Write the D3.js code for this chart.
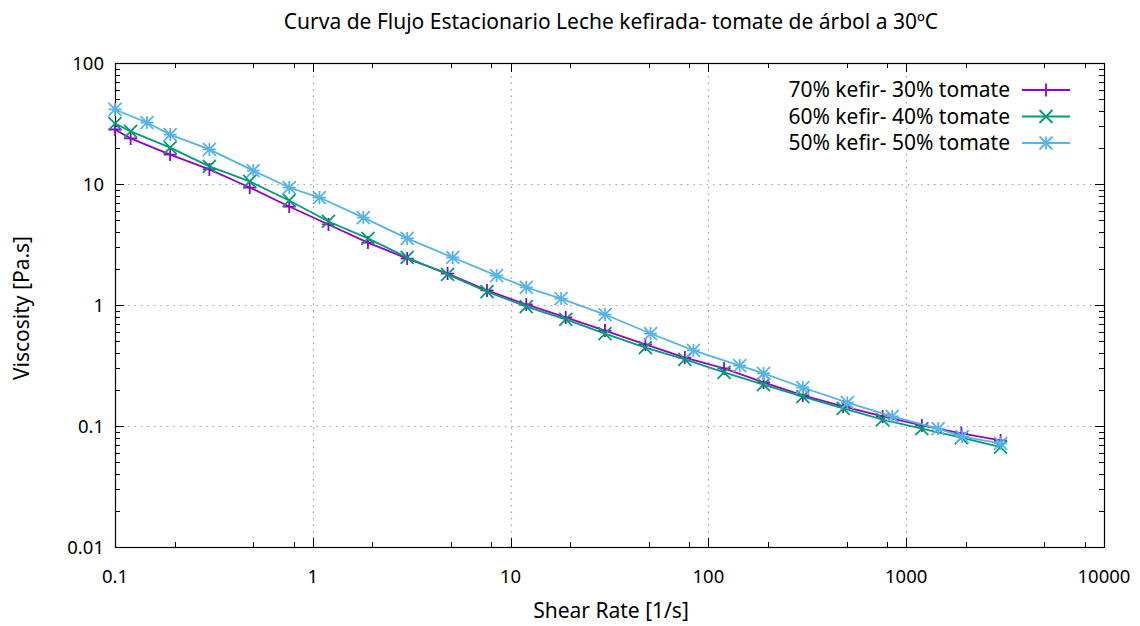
<!DOCTYPE html>
<html>
<head>
<meta charset="utf-8">
<script src="https://cdn.jsdelivr.net/npm/d3@7"></script>
<style>
  html, body { margin: 0; padding: 0; background: #fff; }
  svg text { font-family: "Noto Sans", "Liberation Sans", Arial, sans-serif; fill: #000; }
</style>
</head>
<body>
<svg id="chart" width="1140" height="626"></svg>
<script>
// Shear rate [1/s] for the 70/30 and 60/40 blends
const shear7030 = [0.1, 0.12, 0.19, 0.30, 0.48, 0.76, 1.2, 1.9, 3.0, 4.8, 7.6, 12, 19, 30, 48, 76, 120, 190, 300, 480, 760, 1200, 1900, 3000];
const shear6040 = [0.1, 0.12, 0.19, 0.30, 0.48, 0.76, 1.2, 1.9, 3.0, 4.8, 7.6, 12, 19, 30, 48, 76, 120, 190, 300, 480, 760, 1200, 1900, 3000];
const shear5050 = [0.1, 0.145, 0.19, 0.30, 0.50, 0.76, 1.08, 1.8, 3.0, 5.1, 8.5, 12, 18, 30, 51, 84, 144, 190, 300, 504, 850, 1450, 1920, 3000];

// Viscosity [Pa.s]
const visc7030 = [28.2, 23.8, 17.5, 13.2, 9.35, 6.51, 4.63, 3.28, 2.42, 1.82, 1.32, 1.01, 0.79, 0.615, 0.472, 0.368, 0.299, 0.229, 0.179, 0.145, 0.120, 0.101, 0.087, 0.076];
const visc6040 = [31.6, 27.2, 20.0, 14.0, 10.5, 7.31, 4.90, 3.55, 2.47, 1.79, 1.29, 0.97, 0.76, 0.581, 0.445, 0.355, 0.277, 0.220, 0.175, 0.140, 0.113, 0.0953, 0.0803, 0.0670];
const visc5050 = [41.3, 32.2, 25.6, 19.3, 12.9, 9.35, 7.73, 5.28, 3.55, 2.47, 1.75, 1.40, 1.13, 0.834, 0.581, 0.421, 0.316, 0.272, 0.208, 0.156, 0.120, 0.0953, 0.0818, 0.0720];

const seriesNames = ["70% kefir- 30% tomate", "60% kefir- 40% tomate", "50% kefir- 50% tomate"];
const seriesColors = ["#9400d3", "#009e73", "#56b4e9"];
const seriesMarkers = ["plus", "cross", "star"];

const xTickValues = [0.1, 1, 10, 100, 1000, 10000];
const xTickLabels = ["0.1", "1", "10", "100", "1000", "10000"];
const yTickValues = [0.01, 0.1, 1, 10, 100];
const yTickLabels = ["0.01", "0.1", "1", "10", "100"];

const titleText = "Curva de Flujo Estacionario Leche kefirada- tomate de árbol a 30ºC";
const xLabel = "Shear Rate [1/s]";
const yLabel = "Viscosity [Pa.s]";

const series = [
  { name: seriesNames[0], color: seriesColors[0], marker: seriesMarkers[0], x: shear7030, y: visc7030 },
  { name: seriesNames[1], color: seriesColors[1], marker: seriesMarkers[1], x: shear6040, y: visc6040 },
  { name: seriesNames[2], color: seriesColors[2], marker: seriesMarkers[2], x: shear5050, y: visc5050 }
];

const svg = d3.select("#chart");
const m = { left: 115, right: 1104, top: 63, bottom: 547 };

const x = d3.scaleLog().domain([0.1, 10000]).range([m.left, m.right]);
const y = d3.scaleLog().domain([0.01, 100]).range([m.bottom, m.top]);

// minor tick positions
const xMinor = [];
for (let d = 0.1; d < 10000; d *= 10) [2, 5, 8].forEach(k => xMinor.push(d * k));
const yMinor = [];
for (let d = 0.01; d < 100; d *= 10) for (let k = 2; k <= 9; k++) yMinor.push(d * k);

// dotted grid at the decades
const grid = svg.append("g").attr("stroke", "#a0a0a0").attr("stroke-width", 1.2)
  .attr("stroke-dasharray", "1.5,5");
xTickValues.slice(1, -1).forEach(v => {
  grid.append("line").attr("x1", Math.round(x(v)) + 0.5).attr("x2", Math.round(x(v)) + 0.5)
    .attr("y1", m.top).attr("y2", m.bottom);
});
yTickValues.slice(1, -1).forEach(v => {
  grid.append("line").attr("y1", Math.round(y(v)) + 0.5).attr("y2", Math.round(y(v)) + 0.5)
    .attr("x1", m.left).attr("x2", m.right);
});

// ticks on all four sides, pointing inward
const ticks = svg.append("g").attr("stroke", "#000").attr("stroke-width", 1);
const px = v => Math.round(x(v)) + 0.5;
const py = v => Math.round(y(v)) + 0.5;
xTickValues.forEach(v => {
  ticks.append("line").attr("x1", px(v)).attr("x2", px(v)).attr("y1", m.bottom).attr("y2", m.bottom - 9);
  ticks.append("line").attr("x1", px(v)).attr("x2", px(v)).attr("y1", m.top).attr("y2", m.top + 9);
});
xMinor.forEach(v => {
  ticks.append("line").attr("x1", px(v)).attr("x2", px(v)).attr("y1", m.bottom).attr("y2", m.bottom - 5);
  ticks.append("line").attr("x1", px(v)).attr("x2", px(v)).attr("y1", m.top).attr("y2", m.top + 5);
});
yTickValues.forEach(v => {
  ticks.append("line").attr("y1", py(v)).attr("y2", py(v)).attr("x1", m.left).attr("x2", m.left + 9);
  ticks.append("line").attr("y1", py(v)).attr("y2", py(v)).attr("x1", m.right).attr("x2", m.right - 9);
});
yMinor.forEach(v => {
  ticks.append("line").attr("y1", py(v)).attr("y2", py(v)).attr("x1", m.left).attr("x2", m.left + 5);
  ticks.append("line").attr("y1", py(v)).attr("y2", py(v)).attr("x1", m.right).attr("x2", m.right - 5);
});

// border
svg.append("rect").attr("x", m.left + 0.5).attr("y", m.top + 0.5)
  .attr("width", m.right - m.left).attr("height", m.bottom - m.top)
  .attr("fill", "none").attr("stroke", "#000").attr("stroke-width", 1.2);

// tick labels
const tickFs = 18.5;
const fs = 21;
xTickValues.forEach((v, i) => {
  svg.append("text").attr("x", x(v)).attr("y", 583).attr("text-anchor", "middle")
    .attr("font-size", tickFs).text(xTickLabels[i]);
});
yTickValues.forEach((v, i) => {
  svg.append("text").attr("x", m.left - 11).attr("y", y(v) + 7).attr("text-anchor", "end")
    .attr("font-size", tickFs).text(yTickLabels[i]);
});

// titles
svg.append("text").attr("x", 611).attr("y", 29).attr("text-anchor", "middle")
  .attr("font-size", fs).text(titleText);
svg.append("text").attr("x", 611).attr("y", 618).attr("text-anchor", "middle")
  .attr("font-size", fs).text(xLabel);
svg.append("text").attr("transform", "translate(29,308) rotate(-90)")
  .attr("text-anchor", "middle").attr("font-size", fs).text(yLabel);

// marker shapes
function drawMarker(g, type, cx, cy, color) {
  const r = 6.5;
  const p = d3.path();
  if (type === "plus" || type === "star") {
    p.moveTo(cx - r, cy); p.lineTo(cx + r, cy);
    p.moveTo(cx, cy - r); p.lineTo(cx, cy + r);
  }
  if (type === "cross" || type === "star") {
    p.moveTo(cx - r, cy - r); p.lineTo(cx + r, cy + r);
    p.moveTo(cx - r, cy + r); p.lineTo(cx + r, cy - r);
  }
  g.append("path").attr("d", p.toString()).attr("stroke", color)
    .attr("stroke-width", 1.8).attr("fill", "none");
}

const line = d3.line().x(d => x(d[0])).y(d => y(d[1]));
const plot = svg.append("g");
series.forEach(s => {
  const pts = s.x.map((v, i) => [v, s.y[i]]);
  const g = plot.append("g");
  g.append("path").datum(pts).attr("d", line).attr("fill", "none")
    .attr("stroke", s.color).attr("stroke-width", 1.8);
  pts.forEach(d => drawMarker(g, s.marker, x(d[0]), y(d[1]), s.color));
});

// legend
const legend = svg.append("g");
series.forEach((s, i) => {
  const ly = 90 + i * 26.5;
  legend.append("text").attr("x", 1010).attr("y", ly + 7).attr("text-anchor", "end")
    .attr("font-size", fs).text(s.name);
  legend.append("line").attr("x1", 1022).attr("x2", 1070).attr("y1", ly).attr("y2", ly)
    .attr("stroke", s.color).attr("stroke-width", 1.8);
  drawMarker(legend, s.marker, 1046, ly, s.color);
});
</script>
</body>
</html>
